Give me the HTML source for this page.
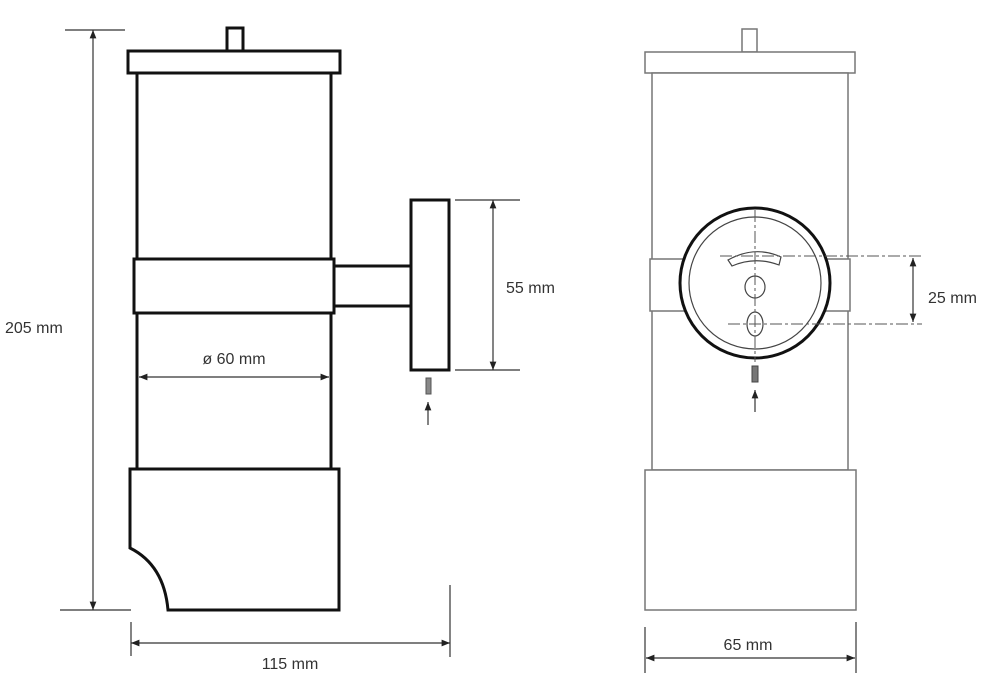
<!DOCTYPE html>
<html><head><style>html,body{margin:0;padding:0;background:#fff;}svg{display:block}</style></head>
<body>
<svg width="995" height="684" viewBox="0 0 995 684" xmlns="http://www.w3.org/2000/svg" font-family="Liberation Sans, sans-serif">
<defs>
<marker id="a" viewBox="0 0 10 10" refX="10" refY="5" markerWidth="7" markerHeight="7" orient="auto-start-reverse"><path d="M0,1L10,5L0,9z" fill="#222"/></marker>
</defs>
<!-- Left view -->
<g fill="#fff" stroke="#111" stroke-width="3">
<rect x="227" y="28" width="16" height="23"/>
<rect x="128" y="51" width="212" height="22"/>
<rect x="137" y="73" width="194" height="396"/>
<rect x="134" y="259" width="200" height="54"/>
<rect x="334" y="266" width="77" height="40"/>
<rect x="411" y="200" width="38" height="170"/>
<path d="M130,469H339V610H168Q164,565 130,548Z"/>
</g>
<rect x="426" y="378" width="5" height="16" fill="#888" stroke="#555"/>
<g stroke="#333" stroke-width="1.2" fill="none">
<line x1="428" y1="425" x2="428" y2="402" marker-end="url(#a)"/>
<line x1="65" y1="30" x2="125" y2="30"/>
<line x1="60" y1="610" x2="131" y2="610"/>
<line x1="93" y1="30" x2="93" y2="610" marker-start="url(#a)" marker-end="url(#a)"/>
<line x1="455" y1="200" x2="520" y2="200"/>
<line x1="455" y1="370" x2="520" y2="370"/>
<line x1="493" y1="200" x2="493" y2="370" marker-start="url(#a)" marker-end="url(#a)"/>
<line x1="139" y1="377" x2="329" y2="377" marker-start="url(#a)" marker-end="url(#a)"/>
<line x1="131" y1="622" x2="131" y2="656"/>
<line x1="450" y1="585" x2="450" y2="657"/>
<line x1="131" y1="643" x2="450" y2="643" marker-start="url(#a)" marker-end="url(#a)"/>
</g>
<g fill="#333" font-size="16">
<text x="5" y="333">205 mm</text>
<text x="506" y="293">55 mm</text>
<text x="234" y="364" text-anchor="middle">ø 60 mm</text>
<text x="290" y="669" text-anchor="middle">115 mm</text>
<text x="748" y="650" text-anchor="middle">65 mm</text>
<text x="928" y="303">25 mm</text>
</g>
<!-- Right view -->
<g fill="#fff" stroke="#777" stroke-width="1.5">
<rect x="742" y="29" width="15" height="23"/>
<rect x="645" y="52" width="210" height="21"/>
<rect x="652" y="73" width="196" height="397"/>
<rect x="645" y="470" width="211" height="140"/>
<rect x="650" y="259" width="200" height="52"/>
</g>
<circle cx="755" cy="283" r="75" fill="#fff" stroke="#111" stroke-width="3"/>
<circle cx="755" cy="283" r="66" fill="none" stroke="#444" stroke-width="1.2"/>
<path d="M728,260Q755,245 781,257L779,265Q755,256 732,266Z" fill="#fff" stroke="#444" stroke-width="1.2"/>
<ellipse cx="755" cy="287" rx="10" ry="11" fill="#fff" stroke="#444" stroke-width="1.2"/>
<ellipse cx="755" cy="324" rx="8" ry="12" fill="#fff" stroke="#444" stroke-width="1.2"/>
<g stroke="#555" stroke-width="1" stroke-dasharray="12,3,3,3" fill="none">
<line x1="755" y1="210" x2="755" y2="362"/>
<line x1="720" y1="256" x2="922" y2="256"/>
<line x1="728" y1="324" x2="922" y2="324"/>
</g>
<rect x="752" y="366" width="6" height="16" fill="#777" stroke="#444"/>
<g stroke="#333" stroke-width="1.2" fill="none">
<line x1="755" y1="412" x2="755" y2="390" marker-end="url(#a)"/>
<line x1="913" y1="258" x2="913" y2="322" marker-start="url(#a)" marker-end="url(#a)"/>
<line x1="645" y1="627" x2="645" y2="673"/>
<line x1="856" y1="622" x2="856" y2="673"/>
<line x1="646" y1="658" x2="855" y2="658" marker-start="url(#a)" marker-end="url(#a)"/>
</g>
</svg>
</body></html>
